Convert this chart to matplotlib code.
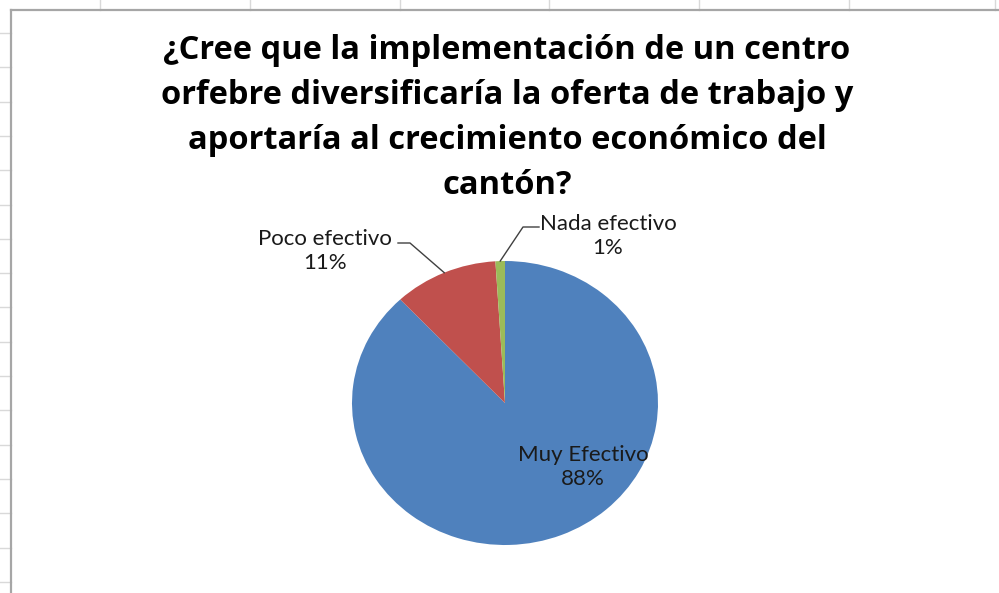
import matplotlib.pyplot as plt
from matplotlib.lines import Line2D
import numpy as np

# Survey answers
categories = ['Muy Efectivo', 'Poco efectivo', 'Nada efectivo']
percentages = [88, 11, 1]
colors = ['#4F81BD', '#C0504D', '#9BBB59']

title = ('¿Cree que la implementación de un centro\n'
         'orfebre diversificaría la oferta de trabajo y\n'
         'aportaría al crecimiento económico del\n'
         'cantón?')

W, H = 999, 593
fig = plt.figure(figsize=(W / 100, H / 100), dpi=100)
fig.patch.set_facecolor('white')

# spreadsheet grid behind the chart (pixel coordinates, y from top)
bg = fig.add_axes([0, 0, 1, 1])
bg.set_xlim(0, W)
bg.set_ylim(H, 0)
bg.axis('off')
grid_col = '#D9D9D9'
for x in [100, 250, 400, 549, 699, 849, 995]:
    bg.add_line(Line2D([x, x], [0, 10], color=grid_col, lw=1))
for y in np.arange(33, H, 34.3):
    bg.add_line(Line2D([0, 11], [y, y], color=grid_col, lw=1))
# chart area border
bg.add_line(Line2D([11, W], [10, 10], color='#A6A6A6', lw=1.6))
bg.add_line(Line2D([11, 11], [10, H], color='#A6A6A6', lw=1.6))

bg.text(507, 118, title, ha='center', va='center', fontsize=23.5,
        fontweight='bold', family='Open Sans', linespacing=1.47, color='#000000')

# pie axes (slightly wider than tall)
cx, cy, rx, ry = 505, 403, 153, 142
ax = fig.add_axes([(cx - rx) / W, 1 - (cy + ry) / H, 2 * rx / W, 2 * ry / H])
wedges, _ = ax.pie(percentages, colors=colors, startangle=90, counterclock=False,
                   radius=1, wedgeprops=dict(linewidth=0))
ax.set_aspect('auto')
ax.set_xlim(-1, 1)
ax.set_ylim(-1, 1)


def px(x, y):
    # figure pixel (from top) -> pie data coords
    return ((x - cx) / rx, (cy - y) / ry)


def edge(w):
    a = np.deg2rad((w.theta1 + w.theta2) / 2)
    return np.cos(a), np.sin(a)


label_kw = dict(fontsize=16, family='Lato', color='#1A1A1A', ha='center',
                va='center', linespacing=1.2)

# inside label for the big slice
ax.text(*px(583, 467), f'{categories[0]}\n{percentages[0]}%', **label_kw)

# outside labels with leader lines
ex, ey = edge(wedges[1])
ax.text(*px(325, 251), f'{categories[1]}\n{percentages[1]}%', clip_on=False, **label_kw)
pts = [px(398, 243), px(410, 243), (ex, ey)]
ax.add_line(Line2D([p[0] for p in pts], [p[1] for p in pts], color='#404040',
                   lw=1, clip_on=False))

ex, ey = edge(wedges[2])
ax.text(*px(608, 236), f'{categories[2]}\n{percentages[2]}%', clip_on=False, **label_kw)
pts = [px(539, 227), px(523, 227), (ex, ey)]
ax.add_line(Line2D([p[0] for p in pts], [p[1] for p in pts], color='#404040',
                   lw=1, clip_on=False))

fig.savefig('out.png', dpi=100)
